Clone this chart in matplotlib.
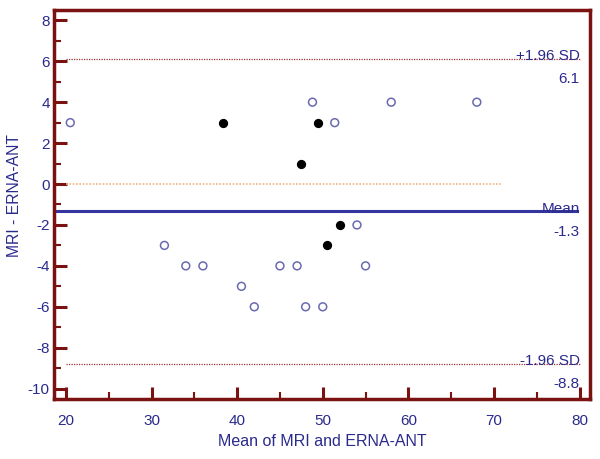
import matplotlib.pyplot as plt
from matplotlib.ticker import MultipleLocator

plt.rcParams['font.family'] = ['Liberation Sans', 'DejaVu Sans']
plt.rcParams['axes.unicode_minus'] = False

# open circles
open_x = [20.5, 31.5, 34, 36, 40.5, 42, 45, 47, 48, 48.8, 50, 51.4, 54, 55, 58, 68]
open_y = [3, -3, -4, -4, -5, -6, -4, -4, -6, 4, -6, 3, -2, -4, 4, 4]

# filled dots
fill_x = [38.3, 49.4, 47.4, 52.0, 50.5]
fill_y = [3, 3, 1, -2, -3]

mean_diff = -1.3
upper_loa = 6.1
lower_loa = -8.8

navy = "#2a2a8c"
frame = "#7a1212"
fs = 11

fig = plt.figure(figsize=(6, 4.59), dpi=100)
ax = fig.add_axes([0.09, 0.131, 0.893, 0.847])

ax.set_xlim(18.6, 81.2)
ax.set_ylim(-10.5, 8.5)

# reference lines
ax.plot([20, 80], [upper_loa, upper_loa], color="#a03030", lw=0.9, ls=(0, (1, 1)))
ax.plot([20, 80], [lower_loa, lower_loa], color="#a03030", lw=0.9, ls=(0, (1, 1)))
ax.plot([20, 71], [0, 0], color="#f5b27a", lw=1.2, ls=(0, (1, 1)))
ax.plot([18.6, 79.7], [mean_diff, mean_diff], color="#3535a0", lw=2.2)

ax.scatter(open_x, open_y, s=32, facecolors="none", edgecolors="#6a6ab0", linewidths=1.1, zorder=3)
ax.scatter(fill_x, fill_y, s=32, color="black", zorder=3)

# labels on the lines
tx = 80
ax.text(tx, upper_loa + 0.15, "+1.96 SD", ha="right", va="center", color=navy, fontsize=fs)
ax.text(tx, upper_loa - 0.95, "%.1f" % upper_loa, ha="right", va="center", color=navy, fontsize=fs)
ax.text(tx, mean_diff + 0.08, "Mean", ha="right", va="center", color=navy, fontsize=fs)
ax.text(tx, mean_diff - 1.05, "%.1f" % mean_diff, ha="right", va="center", color=navy, fontsize=fs)
ax.text(tx, lower_loa + 0.15, "-1.96 SD", ha="right", va="center", color=navy, fontsize=fs)
ax.text(tx, lower_loa - 0.95, "%.1f" % lower_loa, ha="right", va="center", color=navy, fontsize=fs)

ax.set_xticks([20, 30, 40, 50, 60, 70, 80])
ax.set_yticks(range(-10, 9, 2))
ax.xaxis.set_minor_locator(MultipleLocator(5))
ax.yaxis.set_minor_locator(MultipleLocator(1))

for s in ax.spines.values():
    s.set_color(frame)
    s.set_linewidth(2.5)

ax.tick_params(which="major", direction="in", length=9, width=2.2, color=frame,
               labelcolor=navy, labelsize=fs)
ax.tick_params(which="minor", direction="in", length=5, width=1.5, color=frame)
ax.tick_params(axis="x", which="major", pad=11)
ax.tick_params(axis="y", which="major", pad=3)

ax.set_xlabel("Mean of MRI and ERNA-ANT", color=navy, fontsize=11.5, labelpad=4)
fig.text(0.025, 0.575, "MRI - ERNA-ANT", rotation=90, ha="center", va="center",
         color=navy, fontsize=11.3)

fig.savefig("out.png", dpi=100)
